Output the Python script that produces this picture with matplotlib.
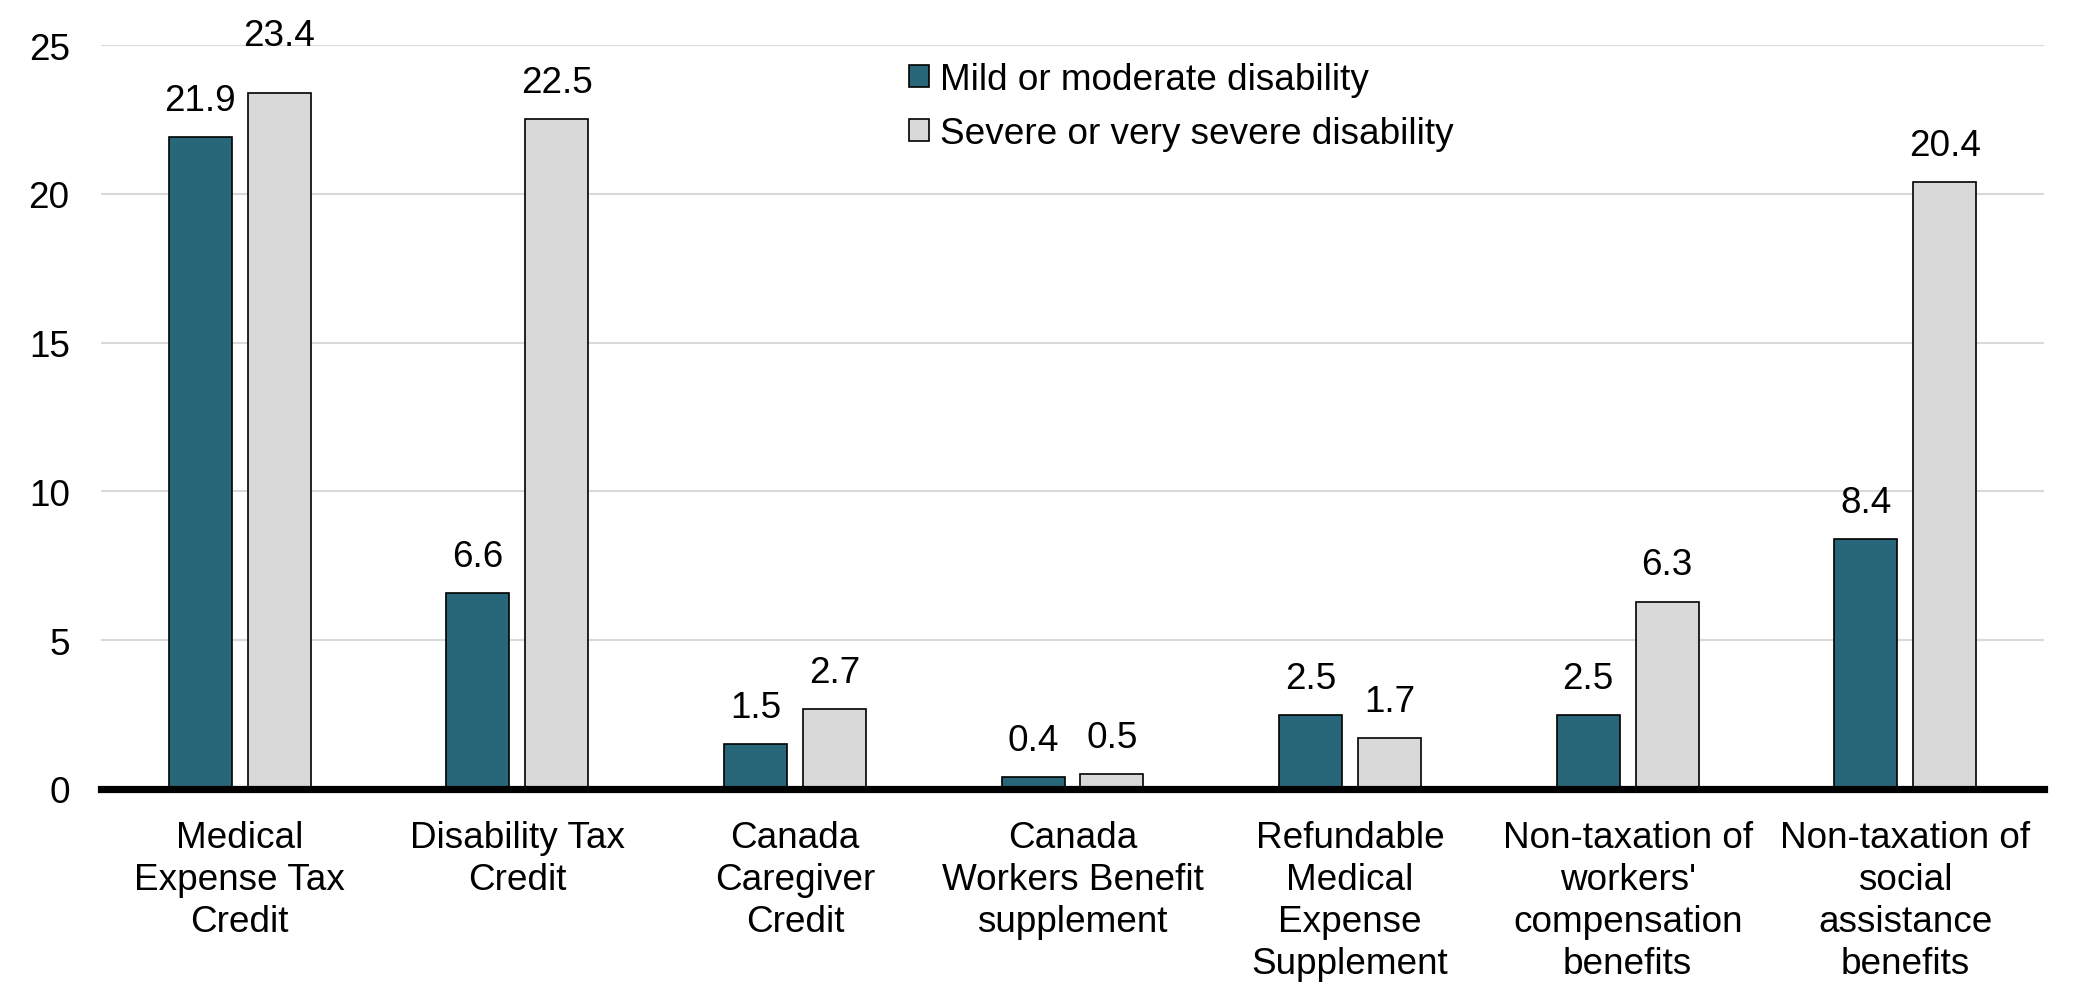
#!/usr/bin/env python3
"""Grouped bar chart: share of recipients by disability severity."""

import matplotlib
matplotlib.use("Agg")
import matplotlib.pyplot as plt
import numpy as np

# ---------------------------------------------------------------------------
# Data
# ---------------------------------------------------------------------------
categories = [
    "Medical\nExpense Tax\nCredit",
    "Disability Tax\nCredit",
    "Canada\nCaregiver\nCredit",
    "Canada\nWorkers Benefit\nsupplement",
    "Refundable\nMedical\nExpense\nSupplement",
    "Non-taxation of\nworkers'\ncompensation\nbenefits",
    "Non-taxation of\nsocial\nassistance\nbenefits",
]
series_names = ["Mild or moderate disability", "Severe or very severe disability"]
mild_values = [21.9, 6.6, 1.5, 0.4, 2.5, 2.5, 8.4]
severe_values = [23.4, 22.5, 2.7, 0.5, 1.7, 6.3, 20.4]
y_ticks = [0, 5, 10, 15, 20, 25]

# ---------------------------------------------------------------------------
# Style
# ---------------------------------------------------------------------------
plt.rcParams["font.family"] = ["Liberation Sans", "DejaVu Sans"]
FS = 26.6
DARK = "#286779"
LIGHT = "#D9D9D9"

W, H = 2091, 1004
fig = plt.figure(figsize=(W / 100, H / 100), dpi=100)
ax = fig.add_axes([101 / W, 1 - 790 / H, (2044 - 101) / W, (790 - 46) / H])

x = np.arange(len(categories))
bw = 0.227
off = 0.142

bars1 = ax.bar(x - off, mild_values, bw, color=DARK, edgecolor="black",
               linewidth=1.2, label=series_names[0], zorder=3)
bars2 = ax.bar(x + off, severe_values, bw, color=LIGHT, edgecolor="black",
               linewidth=1.2, label=series_names[1], zorder=3)

# value labels; the tallest one sits higher so it clears the top gridline
for bars, vals in ((bars1, mild_values), (bars2, severe_values)):
    for b, v in zip(bars, vals):
        dy = 34.5 if v > 23 else 19.5
        ax.annotate(f"{v:.1f}", xy=(b.get_x() + b.get_width() / 2, v),
                    xytext=(0, dy), textcoords="offset points",
                    ha="center", va="baseline", fontsize=FS)

# Axes formatting -----------------------------------------------------------
ax.set_xlim(-0.5, len(categories) - 0.5)
ax.set_ylim(0, 25)
ax.set_yticks(y_ticks)
ax.set_xticks(x)
ax.set_xticklabels(categories, fontsize=FS, linespacing=1.27)
ax.tick_params(axis="y", length=0, pad=22.5, labelsize=FS)
ax.tick_params(axis="x", length=0, pad=22)

ax.grid(axis="y", color="#D9D9D9", linewidth=1.5, zorder=0)
ax.axhline(0, color="black", linewidth=5.2, zorder=4, clip_on=False)
for s in ax.spines.values():
    s.set_visible(False)

leg = ax.legend(loc="upper left", bbox_to_anchor=(909 / W, 1 - 63 / H),
                bbox_transform=fig.transFigure, frameon=False, fontsize=FS,
                handlelength=0.55, handleheight=0.55, handletextpad=0.3,
                labelspacing=0.52, borderpad=0, borderaxespad=0)

fig.savefig("out.png", dpi=100)
